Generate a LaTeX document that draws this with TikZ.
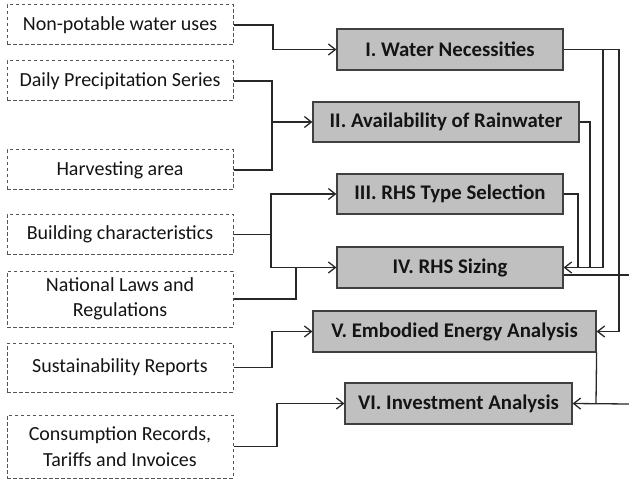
\documentclass[tikz,border=0pt]{standalone}
\usepackage{fontspec}
\setmainfont{Carlito}
\usetikzlibrary{arrows.meta,calc}
\definecolor{boxgray}{RGB}{192,192,192}
\definecolor{edgegray}{RGB}{64,64,64}
\definecolor{linegray}{RGB}{40,40,40}
\definecolor{dashgray}{RGB}{85,85,85}
\definecolor{txt}{RGB}{20,20,20}
\begin{document}
\begin{tikzpicture}[x=1pt,y=-1pt,
  inbox/.style={draw=dashgray,line width=1pt,dash pattern=on 3.5pt off 2.5pt,minimum width=226pt,inner sep=0pt,align=center,font=\fontsize{20}{25.5}\selectfont,text=txt},
  stagebox/.style={draw=edgegray,line width=1.2pt,fill=boxgray,minimum height=41pt,inner sep=0pt,font=\bfseries\fontsize{20.8}{25}\selectfont,text=txt},
  conn/.style={draw=linegray,line width=1.3pt},
  arr/.style={conn,-{Straight Barb[length=7pt,width=11pt,line width=1.3pt]}}]
\useasboundingbox (0,0) rectangle (629,481);
% input boxes
\node[inbox,minimum height=40pt] (b1) at (120,25) {Non-potable water uses};
\node[inbox,minimum height=40pt] (b2) at (120,81) {Daily Precipitation Series};
\node[inbox,minimum height=40pt] (b3) at (120,170) {Harvesting area};
\node[inbox,minimum height=40pt] (b4) at (120,234.5) {Building characteristics};
\node[inbox,minimum height=56pt] (b5) at (120,299) {National Laws and\\Regulations};
\node[inbox,minimum height=49pt] (b6) at (120,367.5) {Sustainability Reports};
\node[inbox,minimum height=63pt] (b7) at (120,446.5) {Consumption Records,\\Tariffs and Invoices};
% stage boxes
\node[stagebox,minimum width=226pt] (s1) at (450,49.5) {I. Water Necessities};
\node[stagebox,minimum width=266pt,minimum height=40pt] (s2) at (446,122) {II. Availability of Rainwater};
\node[stagebox,minimum width=226pt,minimum height=40pt] (s3) at (450,194) {III. RHS Type Selection};
\node[stagebox,minimum width=226pt] (s4) at (450,267.5) {IV. RHS Sizing};
\node[stagebox,minimum width=283pt] (s5) at (454.5,331.5) {V. Embodied Energy Analysis};
\node[stagebox,minimum width=227pt] (s6) at (458.5,403.5) {VI. Investment Analysis};
% edge coordinates
\coordinate (out4) at (629,275);
\coordinate (in6) at (629,404);
% left connectors
\draw[arr] (b1.east) -- (273,25) -- (273,49.5) -- (s1.west);
\draw[conn] (b2.east) -- (272,81) -- (272,170) -- (b3.east);
\draw[arr] (272,122) -- (s2.west);
\draw[conn] (b4.east) -- (271,234.5);
\draw[arr] (271,267.5) -- (271,194) -- (s3.west);
\draw[arr] (271,194) -- (271,267.5) -- (s4.west);
\draw[conn] (b5.east) -- (296,299) -- (296,267.5);
\draw[arr] (b6.east) -- (272,367.5) -- (272,331.5) -- (s5.west);
\draw[arr] (b7.east) -- (277,446.5) -- (277,403.5) -- (s6.west);
% right connectors
\draw[arr] (s1.east) -- (619,49.5) -- (619,331.5) -- (s5.east);
\draw[arr] (603,49.5) -- (603,267.5) -- (s4.east);
\draw[conn] (s2.east) -- (590,122) -- (590,267.5);
\draw[conn] (s3.east) -- (578,194) -- (578,267.5);
\draw[conn] ([yshift=-7.5pt]s4.east) -- (out4);
\draw[conn] (s5.south east) -- (596,403.5);
\draw[arr] (in6) -- (s6.east);
\end{tikzpicture}
\end{document}
